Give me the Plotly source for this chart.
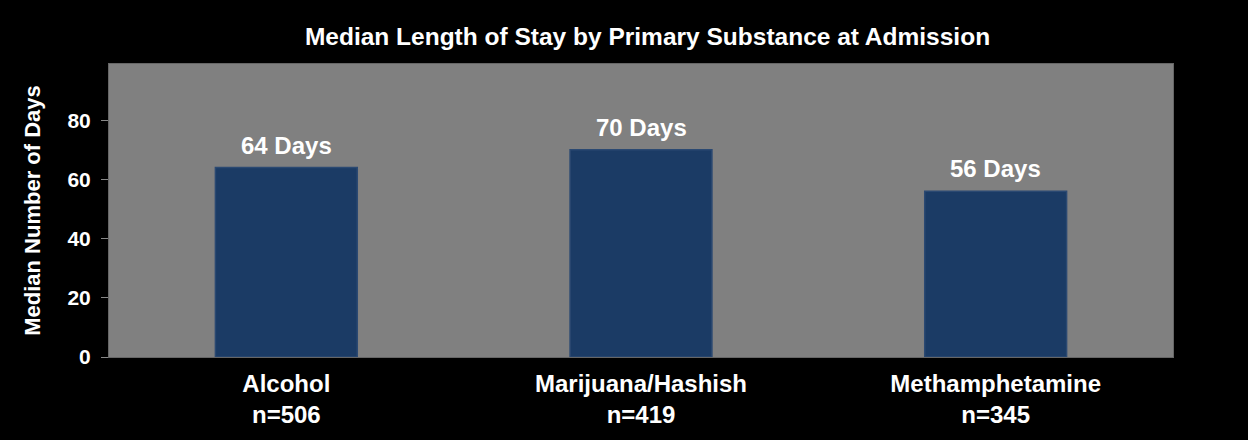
import plotly.graph_objects as go

categories = ["Alcohol", "Marijuana/Hashish", "Methamphetamine"]
counts = ["n=506", "n=419", "n=345"]
values = [64, 70, 56]
labels = ["64 Days", "70 Days", "56 Days"]
tick_vals = [0, 20, 40, 60, 80]

fig = go.Figure(go.Bar(
    x=categories, y=values,
    marker=dict(color="#1b3b65", line=dict(color="#2b4972", width=1.5)),
    hoverinfo="skip",
))
for c, v, t in zip(categories, values, labels):
    fig.add_annotation(x=c, y=v, text=f"<b>{t}</b>", showarrow=False,
                       yanchor="bottom", yshift=7,
                       font=dict(size=24, color="white", family="Liberation Sans"))

fig.update_layout(
    width=1248, height=440,
    paper_bgcolor="black", plot_bgcolor="#808080",
    margin=dict(l=109, r=75, t=64, b=83),
    bargap=0.6,
    showlegend=False,
    font=dict(family="Liberation Sans", color="white"),
    title=dict(text="<b>Median Length of Stay by Primary Substance at Admission</b>",
               x=(303 + 992) / 2 / 1248, xanchor="center", y=1 - 36/440, yanchor="middle",
               font=dict(size=24.5, color="white")),
)
fig.update_yaxes(range=[0, 99], tickvals=tick_vals, ticktext=[f"<b>{v}</b>" for v in tick_vals],
                 showgrid=False, zeroline=False, ticks="outside", ticklen=7, tickcolor="#888",
                 tickfont=dict(size=21, color="white"), ticklabelstandoff=6,
                 showline=True, linecolor="#666", mirror=True,
                 title=dict(text="<b>Median Number of Days</b>", font=dict(size=22, color="white"), standoff=20))
fig.update_xaxes(showgrid=False, tickfont=dict(size=24, color="white"),
                 tickvals=categories,
                 ticktext=[f"<b>{c}<br>{n}</b>" for c, n in zip(categories, counts)],
                 ticklabelstandoff=5,
                 showline=True, linecolor="#666", mirror=True, ticks="")
fig.write_html("out.html")
